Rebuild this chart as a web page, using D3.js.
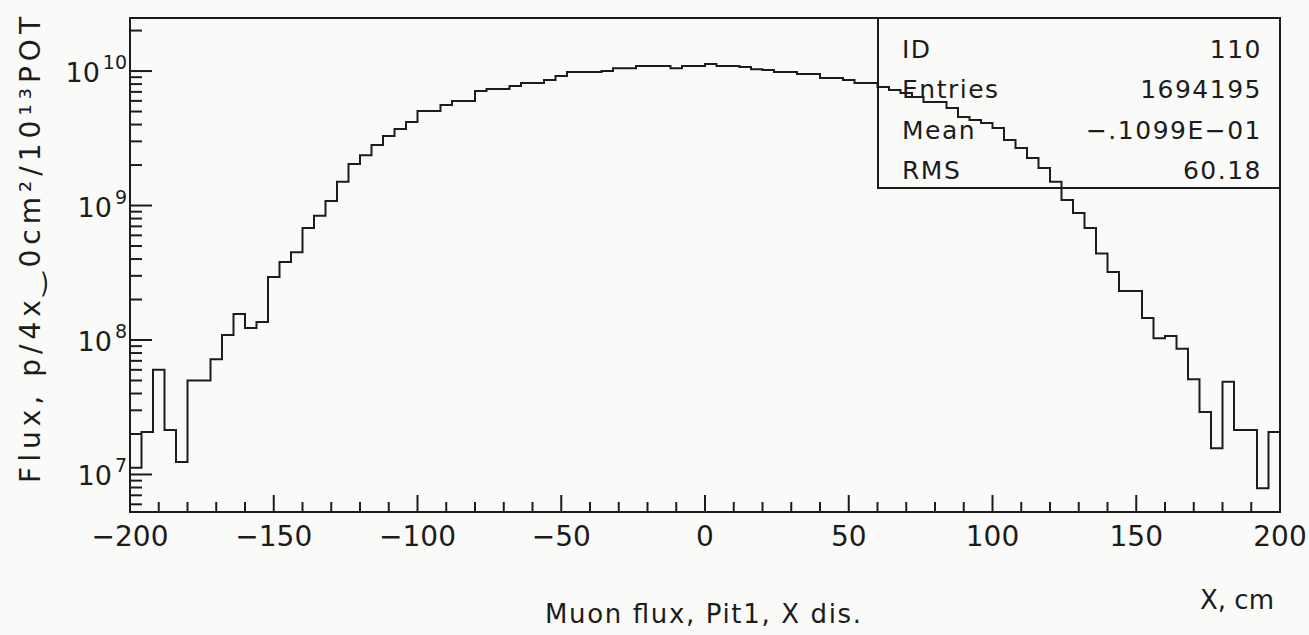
<!DOCTYPE html>
<html lang="en">
<head>
<meta charset="utf-8">
<script src="https://cdn.jsdelivr.net/npm/d3@7"></script>
<style>
body {
  margin: 0;
  background: #fafaf8;
}

svg {
  display: block;
  font-family: 'DejaVu Sans', 'Liberation Sans', sans-serif;
}

text {
  fill: #1c1c1c;
}

.frame, .hist, .tick {
  stroke: #1c1c1c;
  fill: none;
  stroke-width: 2;
}
</style>
</head>
<body>
<svg id="chart" width="1309" height="635"></svg>
<script>
// muon flux per 4 cm bin, -200..200 cm (100 bins)
const binLow = d3.range(-200, 200, 4);
const flux = [
  1.12e7, 2.07e7, 6.0e7, 2.14e7, 1.24e7, 5.0e7, 5.0e7, 7.2e7, 1.09e8, 1.56e8,
  1.23e8, 1.36e8, 2.94e8, 3.8e8, 4.5e8, 6.8e8, 8.4e8, 1.08e9, 1.50e9, 2.04e9,
  2.37e9, 2.82e9, 3.29e9, 3.71e9, 4.18e9, 5.05e9, 5.05e9, 5.59e9, 5.99e9, 5.99e9,
  7.1e9, 7.35e9, 7.35e9, 7.73e9, 8.14e9, 8.14e9, 8.58e9, 9.19e9, 9.84e9, 9.84e9,
  9.84e9, 1.0e10, 1.05e10, 1.05e10, 1.09e10, 1.09e10, 1.09e10, 1.05e10, 1.09e10, 1.09e10,
  1.13e10, 1.09e10, 1.09e10, 1.07e10, 1.03e10, 1.02e10, 9.84e9, 9.84e9, 9.5e9, 9.5e9,
  8.87e9, 8.87e9, 8.58e9, 8.14e9, 8.14e9, 7.6e9, 7.22e9, 6.86e9, 6.41e9, 5.89e9,
  5.89e9, 5.31e9, 4.55e9, 4.32e9, 4.1e9, 3.77e9, 3.07e9, 2.68e9, 2.26e9, 1.90e9,
  1.50e9, 1.10e9, 8.8e8, 6.8e8, 4.4e8, 3.2e8, 2.31e8, 2.31e8, 1.46e8, 1.03e8,
  1.07e8, 8.6e7, 5.1e7, 2.92e7, 1.57e7, 4.9e7, 2.14e7, 2.14e7, 7.9e6, 2.07e7
];

const xTicks = [-200, -150, -100, -50, 0, 50, 100, 150, 200];
const yDecades = [7, 8, 9, 10];

const statNames = ['ID', 'Entries', 'Mean', 'RMS'];
const statValues = ['110', '1694195', '\u2212.1099E\u221201', '60.18'];

const svg = d3.select('#chart');

const plotL = 130, plotR = 1280, plotT = 18, plotB = 512;

const xScale = d3.scaleLinear()
  .domain([-200, 200])
  .range([plotL, plotR]);

const yScale = d3.scaleLog()
  .domain([5.26e6, 2.48e10])
  .range([plotB, plotT]);

// frame
svg.append('rect')
  .attr('class', 'frame')
  .attr('x', plotL)
  .attr('y', plotT)
  .attr('width', plotR - plotL)
  .attr('height', plotB - plotT);

// x ticks, pointing up into the plot
const xMinor = d3.range(-200, 201, 10);
svg.append('g')
  .selectAll('line')
  .data(xMinor)
  .join('line')
  .attr('class', 'tick')
  .attr('x1', (d) => xScale(d))
  .attr('x2', (d) => xScale(d))
  .attr('y1', plotB)
  .attr('y2', (d) => plotB - (d % 50 === 0 ? 17 : 10));

svg.append('g')
  .selectAll('text')
  .data(xTicks)
  .join('text')
  .attr('x', (d) => xScale(d))
  .attr('y', 546)
  .attr('text-anchor', 'middle')
  .attr('font-size', 28)
  .text((d) => (d < 0 ? '\u2212' + Math.abs(d) : d));

// y ticks on the log axis
const yMinor = [];
[6, 7, 8, 9, 10].forEach((p) => {
  for (let m = 1; m <= 9; m++) {
    const v = m * Math.pow(10, p);
    if (v >= yScale.domain()[0] && v <= yScale.domain()[1]) yMinor.push({ v: v, major: m === 1 });
  }
});

svg.append('g')
  .selectAll('line')
  .data(yMinor)
  .join('line')
  .attr('class', 'tick')
  .attr('x1', plotL)
  .attr('x2', (d) => plotL + (d.major ? 22 : 12))
  .attr('y1', (d) => yScale(d.v))
  .attr('y2', (d) => yScale(d.v));

const yLabels = svg.append('g')
  .selectAll('text')
  .data(yDecades)
  .join('text')
  .attr('x', 127)
  .attr('y', (d) => yScale(Math.pow(10, d)) + 11)
  .attr('text-anchor', 'end');

yLabels.append('tspan')
  .attr('font-size', 27)
  .text('10');
yLabels.append('tspan')
  .attr('font-size', 19)
  .attr('dx', 3)
  .attr('dy', -13)
  .text((d) => d);

// histogram outline
const pts = binLow.map((x, i) => [x, flux[i]]);
pts.push([200, flux[flux.length - 1]]);

const stepLine = d3.line()
  .x((d) => xScale(d[0]))
  .y((d) => yScale(d[1]))
  .curve(d3.curveStepAfter);

svg.append('path')
  .attr('class', 'hist')
  .attr('d', stepLine(pts));

// stats box
const boxLeft = 878, boxBottom = 188;
svg.append('rect')
  .attr('class', 'frame')
  .attr('x', boxLeft)
  .attr('y', plotT)
  .attr('width', plotR - boxLeft)
  .attr('height', boxBottom - plotT);

const rowY = d3.scalePoint()
  .domain(statNames)
  .range([58, 179]);

svg.append('g')
  .selectAll('text')
  .data(statNames)
  .join('text')
  .attr('x', 902)
  .attr('y', (d) => rowY(d))
  .attr('font-size', 25)
  .attr('letter-spacing', 1.5)
  .text((d) => d);

svg.append('g')
  .selectAll('text')
  .data(statValues)
  .join('text')
  .attr('x', 1262)
  .attr('y', (d, i) => rowY(statNames[i]))
  .attr('text-anchor', 'end')
  .attr('font-size', 25)
  .attr('letter-spacing', 1.5)
  .text((d) => d);

// axis titles
svg.append('text')
  .attr('transform', 'translate(40, 250) rotate(-90)')
  .attr('text-anchor', 'middle')
  .attr('font-size', 28)
  .attr('textLength', 466)
  .attr('lengthAdjust', 'spacing')
  .text('Flux, p/4x\u203F0cm\u00B2/10\u00B9\u00B3POT');

svg.append('text')
  .attr('x', 1237)
  .attr('y', 609)
  .attr('text-anchor', 'middle')
  .attr('font-size', 26)
  .text('X, cm');

svg.append('text')
  .attr('x', 703)
  .attr('y', 623)
  .attr('text-anchor', 'middle')
  .attr('font-size', 26)
  .attr('textLength', 316)
  .attr('lengthAdjust', 'spacing')
  .text('Muon flux, Pit1, X dis.');
</script>
</body>
</html>
